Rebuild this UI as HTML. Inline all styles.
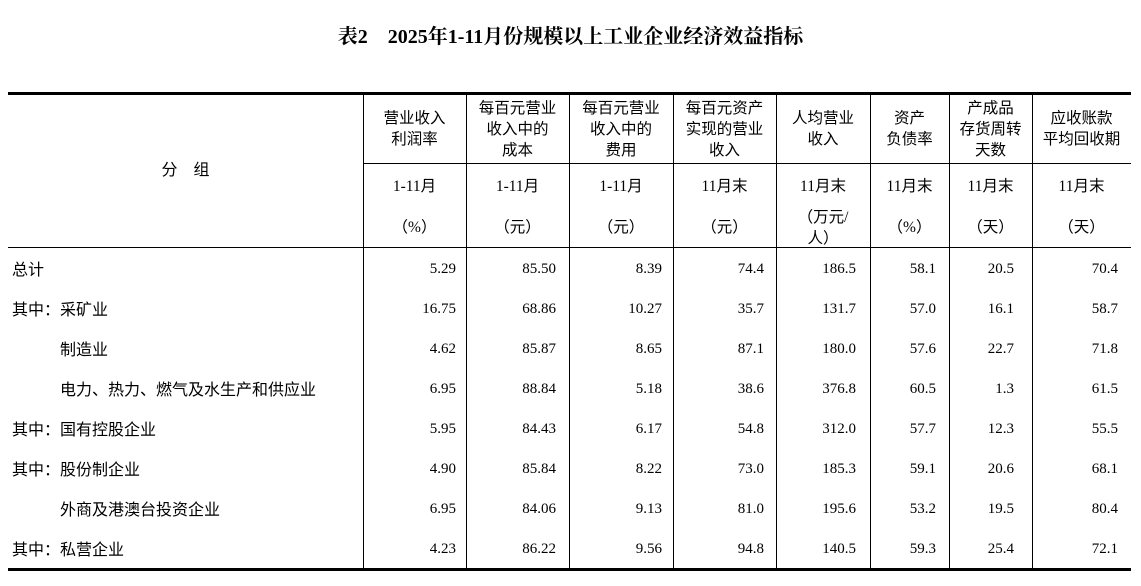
<!DOCTYPE html>
<html><head><meta charset="utf-8"><style>
body{margin:0;width:1141px;height:586px;background:#fff;position:relative;overflow:hidden;font-family:"Liberation Serif","Noto Serif CJK SC",serif;color:#000}
.t{position:absolute;white-space:nowrap}
.title{left:0;width:1141px;top:20px;text-align:center;font-weight:bold;font-size:20px;font-family:"Liberation Serif","Noto Serif CJK SC",serif}
.h{position:absolute;background:#000}
.c{position:absolute;text-align:center;font-size:15.5px;line-height:21px;font-family:"Liberation Serif","Noto Sans CJK SC",sans-serif}
.n{position:absolute;text-align:right;font-size:15px;font-family:"Liberation Serif",serif}
.l{position:absolute;left:12px;font-size:16px;font-family:"Liberation Sans","Noto Sans CJK SC",sans-serif}
</style></head><body>
<div class="t title">表2　2025年1-11月份规模以上工业企业经济效益指标</div>
<div class="h" style="left:8px;top:92px;width:1123px;height:3px"></div>
<div class="h" style="left:8px;top:247px;width:1123px;height:1px"></div>
<div class="h" style="left:8px;top:568px;width:1123px;height:3px"></div>
<div class="h" style="left:363px;top:163px;width:768px;height:1px"></div>
<div id="v"></div>
<script>
var xs=[363,466,569,673,776,870,949,1032];
var v=document.getElementById('v'),h='';
xs.forEach(function(x){h+='<div class="h" style="left:'+x+'px;top:94px;width:1px;height:475px"></div>'});
var edges=[363,466,569,673,776,870,949,1032,1131];
var heads=['营业收入<br>利润率','每百元营业<br>收入中的<br>成本','每百元营业<br>收入中的<br>费用','每百元资产<br>实现的营业<br>收入','人均营业<br>收入','资产<br>负债率','产成品<br>存货周转<br>天数','应收账款<br>平均回收期'];
var tops=[108,98,98,98,108,108,98,108];
var per=['1-11月','1-11月','1-11月','11月末','11月末','11月末','11月末','11月末'];
var units=['（%）','（元）','（元）','（元）','（万元/<br>人）','（%）','（天）','（天）'];
for(var i=0;i<8;i++){var L=edges[i],W=edges[i+1]-L;
h+='<div class="c" style="left:'+L+'px;width:'+W+'px;top:'+tops[i]+'px">'+heads[i]+'</div>';
h+='<div class="c" style="left:'+L+'px;width:'+W+'px;top:176px">'+per[i]+'</div>';
h+='<div class="c" style="left:'+L+'px;width:'+W+'px;top:'+(i==4?207:217)+'px">'+units[i]+'</div>';}
h+='<div class="c" style="left:8px;width:355px;top:160px;font-size:16px;font-family:\'Liberation Sans\',\'Noto Sans CJK SC\',sans-serif">分　组</div>';
var rows=[['总计',0,'5.29','85.50','8.39','74.4','186.5','58.1','20.5','70.4'],
['其中：采矿业',0,'16.75','68.86','10.27','35.7','131.7','57.0','16.1','58.7'],
['制造业',1,'4.62','85.87','8.65','87.1','180.0','57.6','22.7','71.8'],
['电力、热力、燃气及水生产和供应业',1,'6.95','88.84','5.18','38.6','376.8','60.5','1.3','61.5'],
['其中：国有控股企业',0,'5.95','84.43','6.17','54.8','312.0','57.7','12.3','55.5'],
['其中：股份制企业',0,'4.90','85.84','8.22','73.0','185.3','59.1','20.6','68.1'],
['外商及港澳台投资企业',1,'6.95','84.06','9.13','81.0','195.6','53.2','19.5','80.4'],
['其中：私营企业',0,'4.23','86.22','9.56','94.8','140.5','59.3','25.4','72.1']];
var pads=[10,13,11,12,14,13,18,13];
rows.forEach(function(r,k){var y=258+k*40;
h+='<div class="l" style="top:'+(y-2)+'px;left:'+(r[1]?60:12)+'px">'+r[0]+'</div>';
for(var i=0;i<8;i++){h+='<div class="n" style="top:'+(y+3)+'px;left:'+edges[i]+'px;width:'+(edges[i+1]-edges[i]-pads[i])+'px">'+r[i+2]+'</div>';}});
v.innerHTML=h;
</script>
</body></html>
